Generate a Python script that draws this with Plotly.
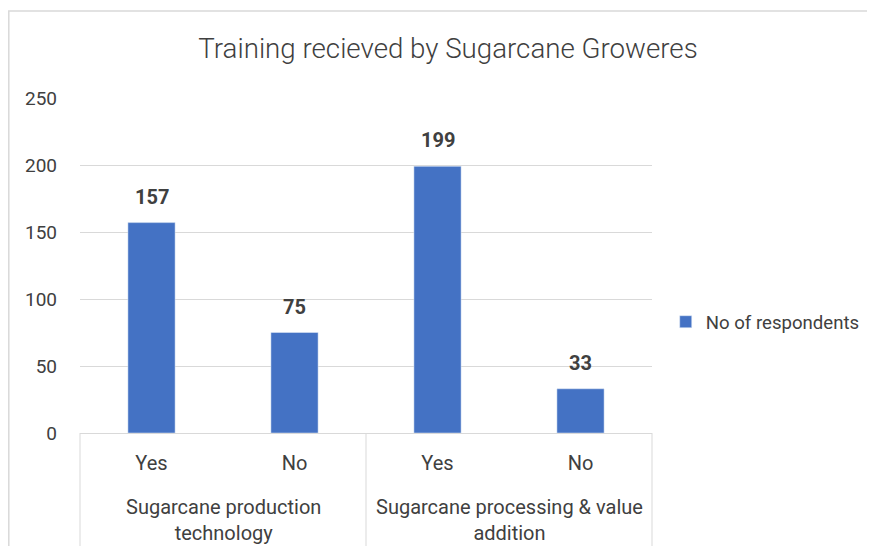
import plotly.graph_objects as go

groups = ["Sugarcane production<br>technology", "Sugarcane production<br>technology",
          "Sugarcane processing & value<br>addition", "Sugarcane processing & value<br>addition"]
answers = ["Yes", "No", "Yes", "No"]
values = [157, 75, 199, 33]
series_name = "No of respondents"
title = "Training recieved by Sugarcane Groweres"
group_labels = ["Sugarcane production<br>technology", "Sugarcane processing & value<br>addition"]

cats = [f"{g}|{a}|{i}" for i, (g, a) in enumerate(zip(groups, answers))]

GRID = "#d9d9d9"
TXT = "#404040"
FONT = "Roboto"

W, H = 859, 538
L, T, PW, PH = 72, 90, 572, 335

fig = go.Figure()
fig.add_trace(go.Bar(
    x=cats, y=values, name=series_name, marker_color="#4472c4",
    width=0.33, showlegend=True,
))

annotations = []
for c, v in zip(cats, values):
    annotations.append(dict(x=c, y=v, xref="x", yref="y", text=f"<b>{v}</b>",
                            showarrow=False, yshift=26, font=dict(family=FONT, size=20, color=TXT)))
for i, g in enumerate(group_labels):
    annotations.append(dict(x=0.25 + 0.5 * i, y=-0.179, xref="paper", yref="paper", text=g,
                            showarrow=False, yanchor="top", xanchor="center",
                            font=dict(family=FONT, size=20, color=TXT)))

shapes = [
    dict(type="rect", xref="paper", yref="paper", x0=(0.8 - L) / PW, x1=1.6, y0=-0.6, y1=1.26,
         line=dict(color=GRID, width=1.5), fillcolor="rgba(0,0,0,0)", layer="below"),
]
for xp in [0, 0.5, 1]:
    shapes.append(dict(type="line", xref="paper", yref="paper", x0=xp, x1=xp, y0=0, y1=-0.6,
                       line=dict(color=GRID, width=1)))

fig.update_layout(
    width=W, height=H,
    margin=dict(l=L, r=W - L - PW, t=T, b=H - T - PH, autoexpand=False),
    paper_bgcolor="white", plot_bgcolor="white",
    title=dict(text=title, x=440 / W, xanchor="center", xref="container", y=1 - 40 / H,
               yanchor="middle", font=dict(family=FONT, size=27.7, color=TXT, weight=300)),
    font=dict(family=FONT, color=TXT),
    xaxis=dict(tickvals=cats, ticktext=answers, tickfont=dict(family=FONT, size=20, color=TXT),
               showgrid=False, showline=True, linecolor=GRID, linewidth=1,
               ticks="", ticklabelstandoff=12, range=[-0.5, 3.5]),
    yaxis=dict(range=[0, 250], dtick=50, showgrid=True, gridcolor=GRID, gridwidth=1,
               zeroline=False, showline=False, tickfont=dict(family=FONT, size=19, color=TXT),
               ticks="", ticklabelstandoff=22),
    legend=dict(x=1.024, y=0.331, xanchor="left", yanchor="middle",
                font=dict(family=FONT, size=18.6, color=TXT), itemwidth=30,
                bgcolor="rgba(0,0,0,0)"),
    annotations=annotations,
    shapes=shapes,
    bargap=0.67,
)

fig.write_html("out.html")
